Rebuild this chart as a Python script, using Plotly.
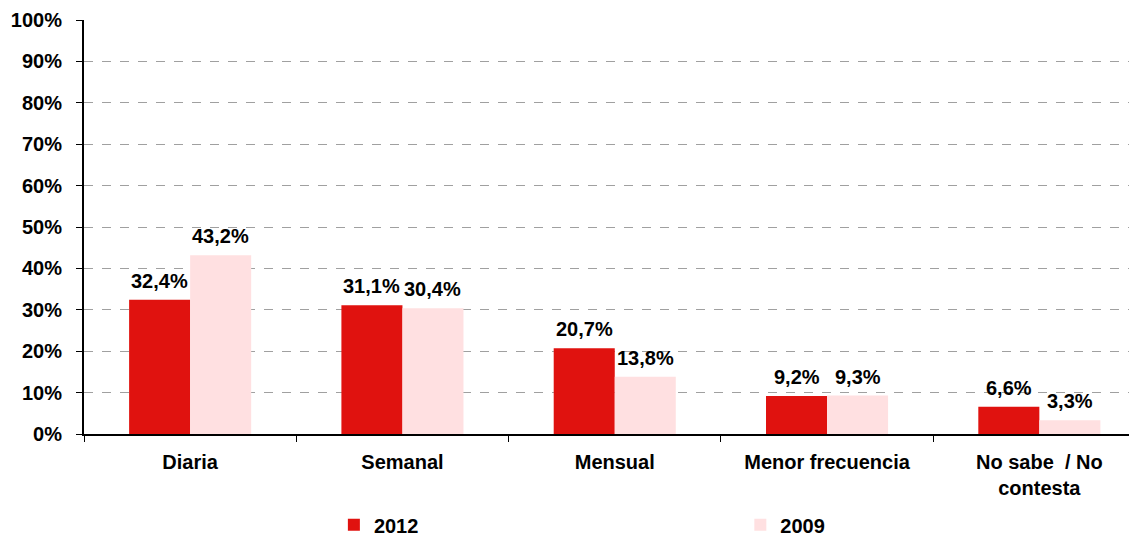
import plotly.graph_objects as go

categories = ["Diaria", "Semanal", "Mensual", "Menor frecuencia", "No sabe  / No<br>contesta"]
values_2012 = [32.4, 31.1, 20.7, 9.2, 6.6]
values_2009 = [43.2, 30.4, 13.8, 9.3, 3.3]
labels_2012 = ["32,4%", "31,1%", "20,7%", "9,2%", "6,6%"]
labels_2009 = ["43,2%", "30,4%", "13,8%", "9,3%", "3,3%"]
y_ticks = [0, 10, 20, 30, 40, 50, 60, 70, 80, 90, 100]
y_tick_text = [f"{v}%" for v in y_ticks]

FONT = "Liberation Sans, Arial, sans-serif"
FS = 20

fig = go.Figure()
fig.add_trace(go.Bar(
    x=categories, y=values_2012, name="<b>2012</b>",
    marker=dict(color="#E0120F", line=dict(width=0)),
    legend="legend",
))
fig.add_trace(go.Bar(
    x=categories, y=values_2009, name="<b>2009</b>",
    marker=dict(color="#FFE0E1", line=dict(width=0)),
    legend="legend2",
))

annotations = []
for cat, v, t in zip(categories, values_2012, labels_2012):
    annotations.append(dict(x=cat, y=v, xref="x", yref="y", text=f"<b>{t}</b>",
                            showarrow=False, xanchor="center", yanchor="bottom",
                            xshift=-30.5, yshift=6,
                            font=dict(size=FS, family=FONT, color="black")))
for cat, v, t in zip(categories, values_2009, labels_2009):
    annotations.append(dict(x=cat, y=v, xref="x", yref="y", text=f"<b>{t}</b>",
                            showarrow=False, xanchor="center", yanchor="bottom",
                            xshift=30.5, yshift=6,
                            font=dict(size=FS, family=FONT, color="black")))

# The page body has an 8px margin, so the figure is 8px smaller and margins compensated
fig.update_layout(
    width=1129, height=531,
    margin=dict(l=76, r=0, t=12, b=105, autoexpand=False),
    paper_bgcolor="white", plot_bgcolor="white",
    barmode="group", bargap=0.425, bargroupgap=0,
    font=dict(family=FONT, size=FS, color="black"),
    showlegend=True,
    legend=dict(orientation="h", x=0.2373, y=-0.172, xanchor="left", yanchor="top",
                font=dict(size=FS, family=FONT), bgcolor="rgba(0,0,0,0)"),
    legend2=dict(orientation="h", x=0.6233, y=-0.172, xanchor="left", yanchor="top",
                 font=dict(size=FS, family=FONT), bgcolor="rgba(0,0,0,0)"),
    annotations=annotations,
)
fig.update_xaxes(
    range=[-0.5, 4.46], showline=True, linecolor="black", linewidth=2,
    ticks="outside", tickson="boundaries", ticklen=6, tickcolor="black",
    tickfont=dict(size=FS, family=FONT), automargin=False, ticklabelstandoff=9,
    tickvals=categories, ticktext=[f"<b>{c}</b>" for c in categories],
    showgrid=False,
)
fig.update_yaxes(
    range=[0, 100], tickvals=y_ticks, ticktext=[f"<b>{t}</b>" for t in y_tick_text],
    showline=True, linecolor="black", linewidth=2,
    ticks="outside", ticklen=6, tickcolor="black", automargin=False,
    tickfont=dict(size=FS, family=FONT), ticklabelstandoff=10,
    showgrid=True, gridcolor="#A0A0A0", griddash="dash", gridwidth=1,
    zeroline=False,
)

fig.write_html("out.html")
